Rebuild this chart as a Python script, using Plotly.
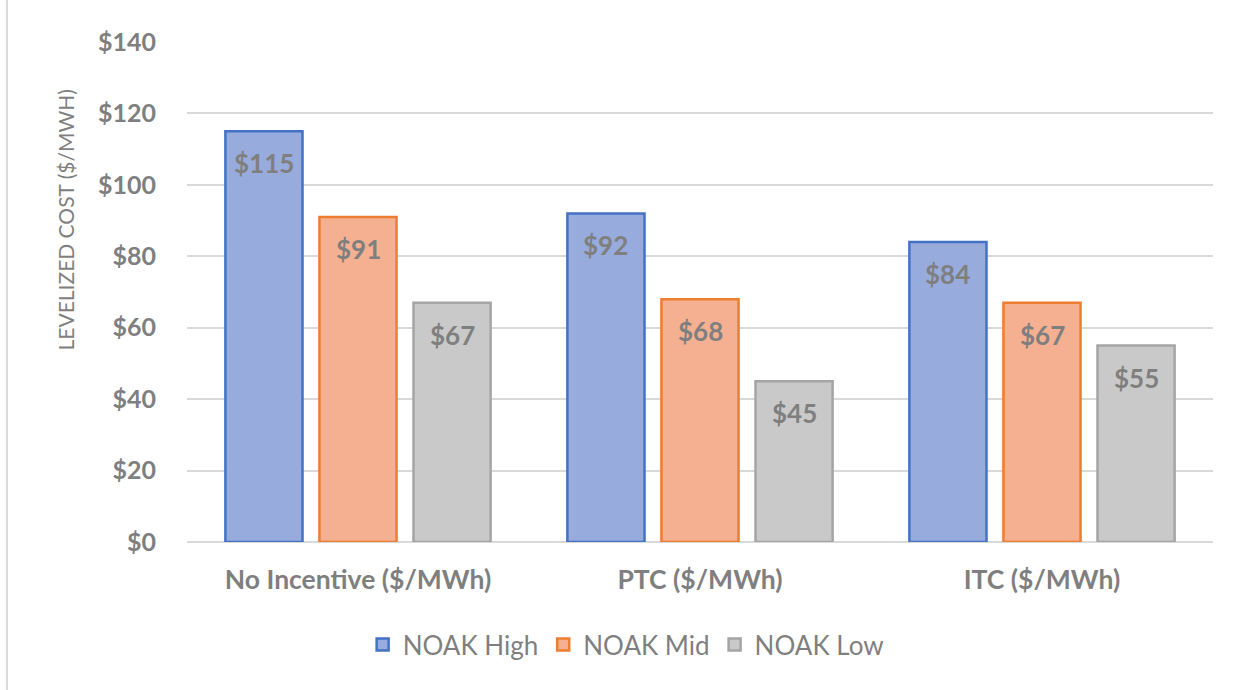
import plotly.graph_objects as go

# Levelized cost by incentive scenario
categories = ["No Incentive ($/MWh)", "PTC ($/MWh)", "ITC ($/MWh)"]
series_names = ["NOAK High", "NOAK Mid", "NOAK Low"]
noak_high = [115, 92, 84]
noak_mid = [91, 68, 67]
noak_low = [67, 45, 55]
y_ticks = [0, 20, 40, 60, 80, 100, 120, 140]
y_title = "LEVELIZED COST ($/MWH)"

series_values = [noak_high, noak_mid, noak_low]
fill_colors = ["#97abdc", "#f5b091", "#c9c9c9"]
line_colors = ["#4472c4", "#ed7d31", "#a5a5a5"]

FONT = "Lato"
GRAY = "#7f7f7f"

fig = go.Figure()
for name, vals, fc, lc in zip(series_names, series_values, fill_colors, line_colors):
    fig.add_trace(go.Bar(
        x=categories, y=vals, name=name,
        marker=dict(color=fc, line=dict(color=lc, width=2.5)),
        hoverinfo="skip",
    ))

# value labels just inside the top of each bar
slot = 0.275
for i, vals in enumerate(series_values):
    for j, v in enumerate(vals):
        fig.add_annotation(
            x=j + (i - 1) * slot, y=v, xref="x", yref="y",
            text=f"<b>${v}</b>", showarrow=False,
            yanchor="middle", yshift=-32,
            font=dict(family=FONT, size=26, color=GRAY),
        )

# rotated axis title, sitting in the left margin
fig.add_annotation(
    x=-0.118, y=0.645, xref="paper", yref="paper", text=y_title, showarrow=False,
    textangle=-90, xanchor="center", yanchor="middle",
    font=dict(family=FONT, size=21, color=GRAY),
)

fig.update_layout(
    width=1245, height=690,
    margin=dict(l=187, r=32, t=42, b=148),
    paper_bgcolor="white", plot_bgcolor="white",
    barmode="group", bargap=0.175, bargroupgap=0.18,
    font=dict(family=FONT, color=GRAY),
    showlegend=True,
    legend=dict(
        orientation="h", x=0.428, xanchor="center", y=-0.158, yanchor="top",
        font=dict(family=FONT, size=26, color=GRAY),
        itemwidth=30, traceorder="normal",
    ),
    xaxis=dict(
        showgrid=False, showline=False, ticks="",
        tickfont=dict(family=FONT, size=26.5, color=GRAY, weight="bold"),
        ticklabelstandoff=19,
    ),
    yaxis=dict(
        range=[0, 140], tickvals=y_ticks,
        ticktext=[f"${t}" for t in y_ticks],
        showgrid=True, gridcolor="#d9d9d9", gridwidth=1.8,
        zeroline=True, zerolinecolor="#d9d9d9", zerolinewidth=1.8,
        showline=False, ticks="",
        tickfont=dict(family=FONT, size=25, color=GRAY, weight="bold"),
        ticklabelstandoff=30,
    ),
    shapes=[dict(type="line", xref="paper", yref="paper",
                 x0=-0.1755, x1=-0.1755, y0=-0.3, y1=1.084,
                 line=dict(color="#d9d9d9", width=2))],
)

fig.write_html("out.html")
